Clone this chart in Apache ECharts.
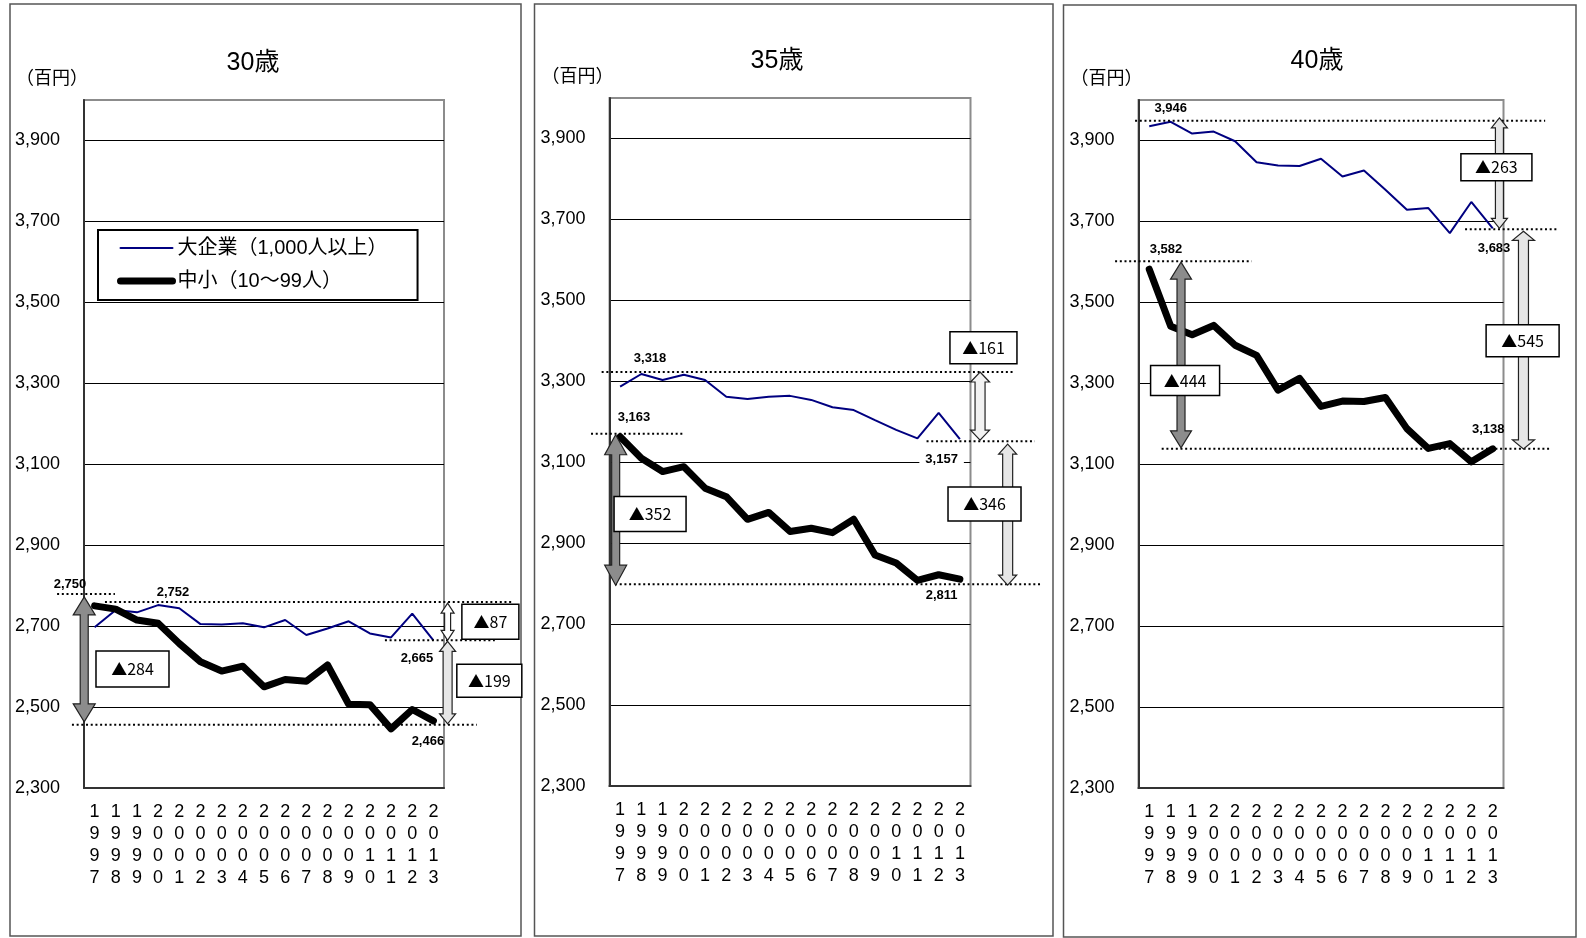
<!DOCTYPE html>
<html><head><meta charset="utf-8">
<script src="https://cdn.jsdelivr.net/npm/echarts@6.0.0/dist/echarts.min.js"></script>
<style>html,body{margin:0;padding:0;background:#fff}#c{width:1586px;height:938px}</style>
</head><body><div id="c"></div>
<script>
// ---- data ----
const NAME_L = '大企業（1,000人以上）';
const NAME_S = '中小（10～99人）';
const years = ['1997','1998','1999','2000','2001','2002','2003','2004','2005','2006','2007','2008','2009','2010','2011','2012','2013'];
const titles = ['30歳', '35歳', '40歳'];
const yUnit = '（百円）';
const large30 = [2697, 2740, 2734, 2752, 2744, 2705, 2704, 2707, 2697, 2715, 2678, 2694, 2712, 2682, 2672, 2731, 2665];
const small30 = [2750, 2742, 2715, 2707, 2657, 2612, 2589, 2601, 2550, 2568, 2564, 2604, 2507, 2506, 2446, 2494, 2466];
const large35 = [3287, 3318, 3303, 3316, 3303, 3262, 3256, 3262, 3264, 3254, 3236, 3229, 3204, 3180, 3159, 3222, 3157];
const small35 = [3163, 3110, 3077, 3089, 3036, 3015, 2959, 2976, 2929, 2937, 2926, 2959, 2871, 2851, 2808, 2822, 2811];
const large40 = [3935, 3946, 3917, 3922, 3898, 3846, 3838, 3837, 3855, 3811, 3826, 3778, 3729, 3733, 3671, 3748, 3683];
const small40 = [3582, 3441, 3420, 3443, 3394, 3369, 3283, 3312, 3243, 3256, 3255, 3265, 3188, 3139, 3151, 3106, 3138];
const yMin = 2300, yMax = 4000, yStep = 200;

// ---- layout (positions / styles) ----
const NUM = "'Liberation Sans', Arial, sans-serif";
const JP = "'Noto Sans CJK JP', sans-serif";
const MIX = "'Liberation Sans', 'Noto Sans CJK JP', sans-serif";

const panels = [
  { title: titles[0], large: large30, small: small30,
    grid: [84, 100, 360, 688], frame: [10, 4, 511, 932], titleXY: [253, 63],
    ann: {
      dots: [['S0', -12, -1.77, 0.96], ['L', -3, 0.49, 19.7], ['Ln', 0, 13.71, 18.9], ['Sn', 4, -1.07, 18.05]],
      vals: [['S0', -21, -1.16], ['L', -13, 3.7], ['Ln', 18, 15.22], ['Sn', 21, 15.74]],
      arrows: [['S0', -9, 'Sn', 1, -0.49, 22, 18, 8, '#8c8c8c'], ['L', -2, 'Ln', 0, 16.67, 13, 10, 6, '#ffffff'], ['Ln', 1, 'Sn', 3, 16.67, 16, 10, 9, '#e6e6e6']],
      boxes: [['S0', 'Sn', 1.79, 2594, 73, 36], ['L', 'Ln', 18.69, 2711, 57, 35], ['Ln', 'Sn', 18.64, 2565, 65, 33]]
    } },
  { title: titles[1], large: large35, small: small35,
    grid: [609.5, 98, 361, 688], frame: [534.5, 4, 518.5, 932], titleXY: [777, 61],
    ann: {
      dots: [['L', -2, -0.87, 18.5], ['S0', -3, -1.37, 2.96], ['Ln', 2, 14.43, 19.53], ['Sn', 5, -0.24, 19.8]],
      vals: [['L', -16, 1.41], ['S0', -19, 0.65], ['Ln', 20, 15.14, true], ['Sn', 16, 15.14]],
      arrows: [['S0', -2, 'Sn', 6, -0.21, 22, 20, 8, '#8c8c8c'], ['L', -2, 'Ln', 1, 16.95, 19, 10, 10, '#f2f2f2'], ['Ln', 5, 'Sn', 6, 18.25, 18, 10, 10, '#e6e6e6']],
      boxes: [['S0', 'Sn', 1.41, 2972, 72, 35], ['L', 'Ln', 17.11, 3383, 67, 32], ['Ln', 'Sn', 17.16, 2997, 73, 34]]
    } },
  { title: titles[2], large: large40, small: small40,
    grid: [1138.5, 100, 365, 688], frame: [1063.5, 5, 512.5, 932], titleXY: [1317, 61],
    ann: {
      dots: [['L', -1, -0.66, 18.44], ['Ln', 1, 14.71, 19.04], ['S0', -8, -1.59, 4.77], ['Sn', 0, 0.58, 18.67]],
      vals: [['L', -13, 1.0], ['Ln', 20, 16.06], ['S0', -19.5, 0.78], ['Sn', -19, 15.79]],
      arrows: [['S0', -7, 'Sn', -1, 1.48, 21, 17, 8, '#8c8c8c'], ['L', -4, 'Ln', 0, 16.31, 16, 10, 8, '#e6e6e6'], ['Ln', 3, 'Sn', 0, 17.43, 22, 9, 10, '#e6e6e6']],
      boxes: [['S0', 'Sn', 1.67, 3307, 69, 30], ['L', 'Ln', 16.17, 3834, 71, 27], ['Ln', 'Sn', 17.39, 3405, 73, 32]]
    } }
];

const chart = echarts.init(document.getElementById('c'), null, { renderer: 'canvas' });

const grids = [], xAxes = [], yAxes = [], series = [];
panels.forEach((p, i) => {
  grids.push({ left: p.grid[0], top: p.grid[1], width: p.grid[2], height: p.grid[3],
    show: true, borderColor: '#8c8c8c', borderWidth: 2, backgroundColor: 'transparent',
    containLabel: false, outerBoundsMode: 'none' });
  xAxes.push({ type: 'category', gridIndex: i, data: years, boundaryGap: true,
    axisLine: { lineStyle: { color: '#333', width: 2 } },
    axisTick: { inside: true, length: 4, lineStyle: { color: '#333', width: 1 } },
    axisLabel: { interval: 0, margin: 13, fontSize: 18, lineHeight: 22, color: '#000', fontFamily: NUM,
      formatter: v => v.split('').join('\n') },
    splitLine: { show: false } });
  yAxes.push({ type: 'value', gridIndex: i, min: yMin, max: yMax, interval: yStep / 2,
    name: yUnit, nameLocation: 'end', nameGap: 14,
    nameTextStyle: { fontSize: 18, color: '#000', fontFamily: JP, align: 'center', padding: [0, 64, 0, 0] },
    axisLine: { show: true, lineStyle: { color: '#333', width: 2 } },
    axisTick: { show: false },
    axisLabel: { margin: 24, fontSize: 18, color: '#000', fontFamily: NUM,
      formatter: v => ((v - yMin) % yStep === 0 && v < yMax) ? v.toLocaleString('en-US') : '' },
    splitLine: { show: true, lineStyle: { color: ['#000', 'rgba(0,0,0,0)'], width: 1 } } });
  series.push({ type: 'line', name: NAME_L, xAxisIndex: i, yAxisIndex: i, data: p.large,
    symbol: 'none', silent: true, lineStyle: { color: '#000080', width: 2 }, itemStyle: { color: '#000080' }, z: 3 });
  series.push({ type: 'line', name: NAME_S, xAxisIndex: i, yAxisIndex: i, data: p.small,
    symbol: 'none', silent: true, lineStyle: { color: '#000', width: 7, cap: 'round', join: 'round' }, itemStyle: { color: '#000' }, z: 4 });
});

chart.setOption({
  animation: false,
  backgroundColor: '#fff',
  grid: grids, xAxis: xAxes, yAxis: yAxes, series: series,
  legend: { data: [NAME_L, NAME_S], orient: 'vertical', left: 98, top: 230,
    padding: [6, 30, 7, 19], itemWidth: 52, itemHeight: 14, itemGap: 9,
    borderColor: '#000', borderWidth: 2, backgroundColor: '#fff', selectedMode: false,
    itemStyle: { opacity: 0, borderWidth: 0 },
    lineStyle: { width: 'inherit', cap: 'round' },
    textStyle: { fontSize: 20, lineHeight: 24, color: '#000', fontFamily: MIX } }
});

// ---- annotations, positioned through the axes' scales ----
function pt(i, idx, val) {
  const a = chart.convertToPixel({ gridIndex: i }, [0, val]);
  const b = chart.convertToPixel({ gridIndex: i }, [1, val]);
  return [a[0] + (b[0] - a[0]) * idx, a[1]];
}
function keyVal(p, k) {
  if (k === 'S0') return p.small[0];
  if (k === 'Sn') return p.small[p.small.length - 1];
  if (k === 'L') return Math.max.apply(null, p.large);
  return p.large[p.large.length - 1];
}
function arrowPts(cx, y1, y2, hw, hh, sw) {
  const a = hw / 2, s = sw / 2;
  return [[cx, y1], [cx + a, y1 + hh], [cx + s, y1 + hh], [cx + s, y2 - hh], [cx + a, y2 - hh], [cx, y2],
    [cx - a, y2 - hh], [cx - s, y2 - hh], [cx - s, y1 + hh], [cx - a, y1 + hh]];
}

const g = [];
panels.forEach((p, i) => {
  g.push({ type: 'rect', z: 0, silent: true, shape: { x: p.frame[0], y: p.frame[1], width: p.frame[2], height: p.frame[3] },
    style: { fill: 'none', stroke: '#555', lineWidth: 1.5 } });
  g.push({ type: 'text', z: 100, silent: true, x: p.titleXY[0], y: p.titleXY[1],
    style: { text: p.title, fontSize: 25, fontFamily: MIX, fill: '#000', align: 'center', verticalAlign: 'middle' } });
  const A = p.ann;
  A.dots.forEach(d => {
    const v = keyVal(p, d[0]);
    const s = pt(i, d[2], v), e = pt(i, d[3], v);
    g.push({ type: 'line', z: 101, silent: true, shape: { x1: s[0], y1: s[1] + d[1], x2: e[0], y2: e[1] + d[1] },
      style: { stroke: '#000', lineWidth: 2, lineDash: [2, 2.7] } });
  });
  A.arrows.forEach(a => {
    const t = pt(i, a[4], keyVal(p, a[0])), b = pt(i, a[4], keyVal(p, a[2]));
    g.push({ type: 'polygon', z: 102, silent: true,
      shape: { points: arrowPts(t[0], t[1] + a[1], b[1] + a[3], a[5], a[6], a[7]) },
      style: { fill: a[8], stroke: '#222', lineWidth: 1.2 } });
  });
  A.boxes.forEach(bx => {
    const c = pt(i, bx[2], bx[3]);
    const diff = keyVal(p, bx[0]) - keyVal(p, bx[1]);
    g.push({ type: 'rect', z: 103, silent: true,
      shape: { x: c[0] - bx[4] / 2, y: c[1] - bx[5] / 2, width: bx[4], height: bx[5] },
      style: { fill: '#fff', stroke: '#000', lineWidth: 1.5 } });
    g.push({ type: 'text', z: 104, silent: true, x: c[0], y: c[1],
      style: { text: '▲' + diff, fontSize: 16, fontFamily: JP, fill: '#000', align: 'center', verticalAlign: 'middle' } });
  });
  A.vals.forEach(vl => {
    const v = keyVal(p, vl[0]);
    const c = pt(i, vl[2], v);
    const st = { text: v.toLocaleString('en-US'), fontSize: 13, fontWeight: 'bold', fontFamily: NUM, fill: '#000',
      align: 'center', verticalAlign: 'middle' };
    if (vl[3]) { st.backgroundColor = '#fff'; st.padding = [5, 6]; }
    g.push({ type: 'text', z: 105, silent: true, x: c[0], y: c[1] + vl[1], style: st });
  });
});
chart.setOption({ graphic: { elements: g } });
</script>
</body></html>
